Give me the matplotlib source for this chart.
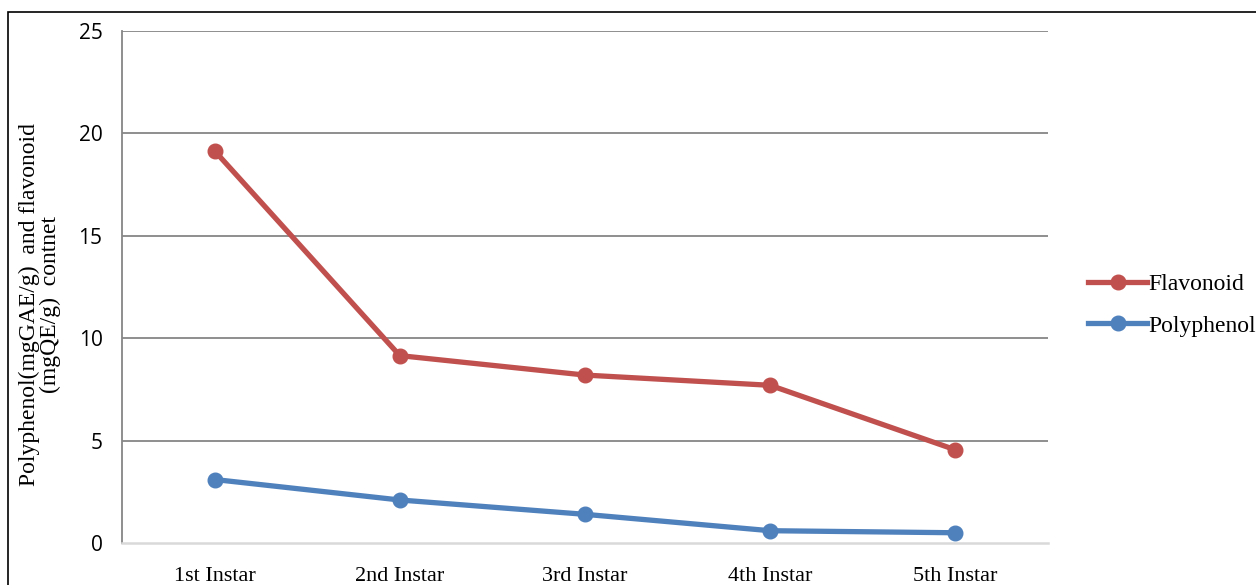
import matplotlib
matplotlib.use('Agg')
import matplotlib.pyplot as plt
from matplotlib.patches import Rectangle

# Instar stages and measured contents
stages = ["1st Instar", "2nd Instar", "3rd Instar", "4th Instar", "5th Instar"]
flavonoid = [19.15, 9.15, 8.2, 7.7, 4.55]
polyphenol = [3.1, 2.1, 1.4, 0.6, 0.5]

red = "#C0504D"
blue = "#4F81BD"
grid_gray = "#868686"

fig = plt.figure(figsize=(12.56, 5.85), dpi=100)
ax = fig.add_axes([0.0971, 0.0718, 0.8344 - 0.0971, 0.947 - 0.0718])

x = range(len(stages))
ax.plot(x, flavonoid, color=red, lw=3.8, marker="o", markersize=10.5, label="Flavonoid")
ax.plot(x, polyphenol, color=blue, lw=3.8, marker="o", markersize=10.5, label="Polyphenol")

ax.set_xlim(-0.5, len(stages) - 0.5)
ax.set_ylim(0, 25)
ax.set_yticks(range(0, 26, 5))
ax.set_xticks(list(x))
ax.set_xticklabels(stages, family="Liberation Serif", fontsize=16)
for lab in ax.get_yticklabels():
    lab.set_family("Open Sans")
    lab.set_fontsize(15)

ax.tick_params(axis="both", length=0)
ax.tick_params(axis="y", pad=14)
ax.tick_params(axis="x", pad=17)

# horizontal gridlines, the zero line is lighter
for v in range(5, 26, 5):
    ax.axhline(v, color=grid_gray, lw=1.3, zorder=0)
for side in ["top", "right"]:
    ax.spines[side].set_visible(False)
ax.spines["bottom"].set_color("#D9D9D9")
ax.spines["bottom"].set_linewidth(1.8)
ax.spines["left"].set_color(grid_gray)
ax.spines["left"].set_linewidth(1.3)

ax.set_ylabel("Polyphenol(mgGAE/g)  and flavonoid\n(mgQE/g)  contnet",
              family="Liberation Serif", fontsize=17, linespacing=0.95)
ax.yaxis.set_label_coords(-0.066, 0.465)

leg = fig.legend(loc="center left", bbox_to_anchor=(1088 / 1256, 1 - 305 / 585), frameon=False,
                 prop={"family": "Liberation Serif", "size": 17},
                 handlelength=2.5, labelspacing=0.85, handletextpad=0.05,
                 borderpad=0, borderaxespad=0)

# outer frame of the chart area
fig.patches.append(Rectangle((8 / 1256, -0.1), 1.2, 1.1 - 12 / 585,
                             transform=fig.transFigure, fill=False,
                             edgecolor="black", lw=1.2))

fig.savefig("out.png", dpi=100)
